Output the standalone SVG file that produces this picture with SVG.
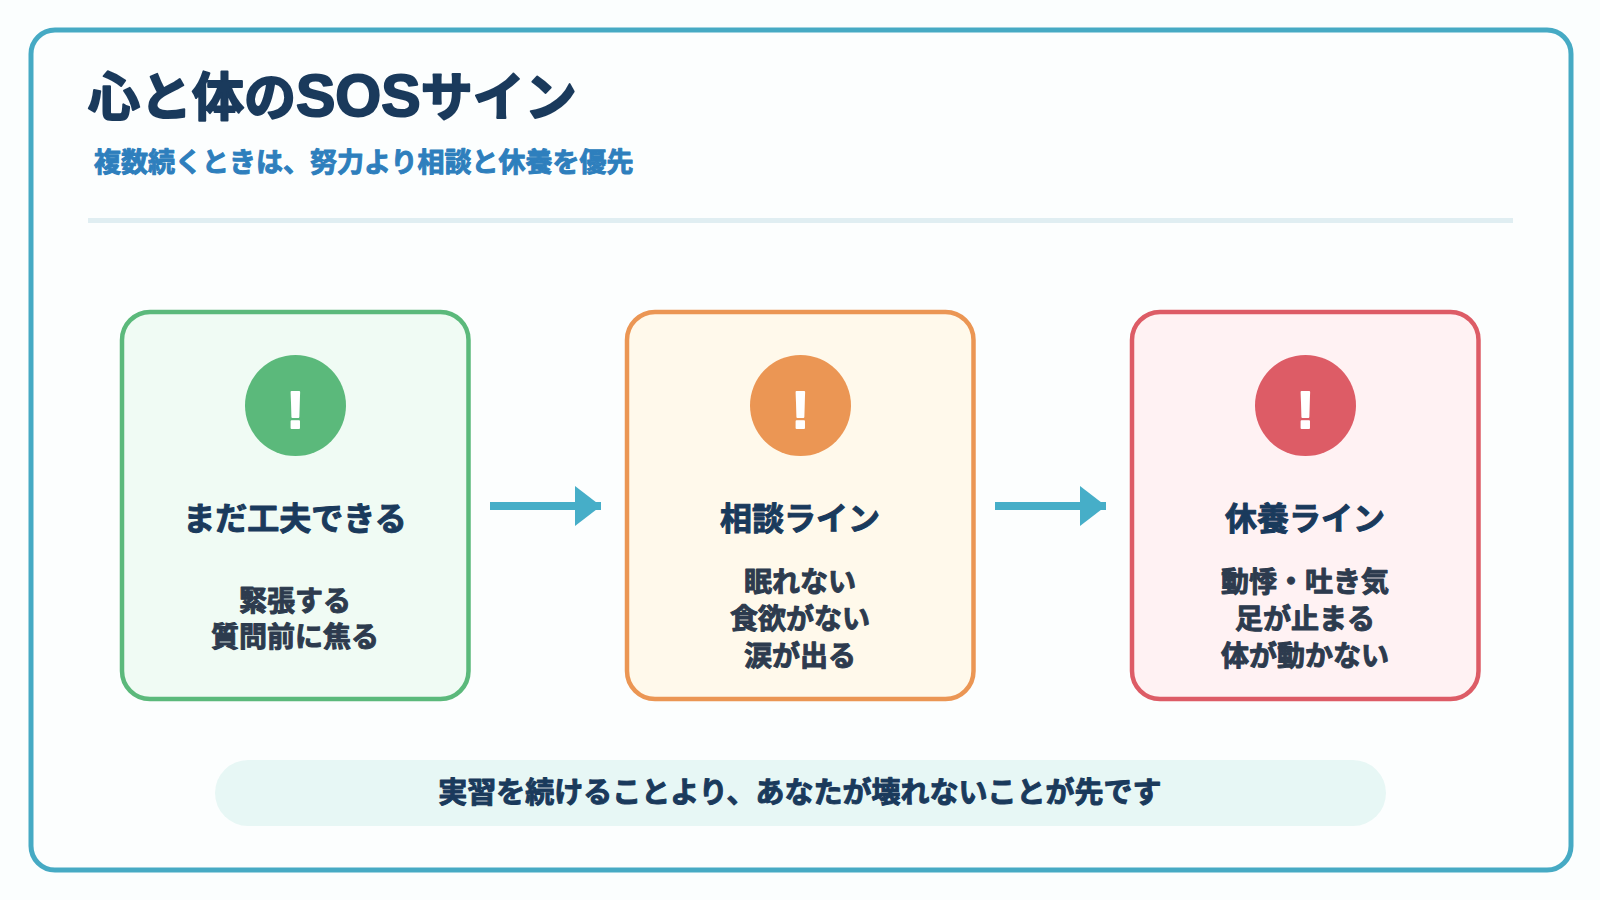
<svg xmlns="http://www.w3.org/2000/svg" width="1600" height="900" viewBox="0 0 1600 900">
<style>
text{font-family:"Liberation Sans","Noto Sans CJK JP",sans-serif;font-weight:700;text-anchor:middle;stroke-linejoin:round}
.card{stroke-width:4.500}
.bang{font-size:52px;fill:#fff;stroke:#fff;stroke-width:2}
.h{font-size:32px;fill:#1a3a5c;stroke:#1a3a5c;stroke-width:1}
.b{font-size:28px;fill:#2d3b4e;stroke:#2d3b4e;stroke-width:1}
.c{fill:none;stroke:#46aec8;stroke-width:8}
</style>
<defs><marker id="arrow" markerUnits="userSpaceOnUse" markerWidth="26" markerHeight="40" refX="0" refY="20" orient="auto"><polygon points="0,0 26,20 0,40" fill="#46aec8"/></marker></defs>
<rect width="1600" height="900" fill="#fbfefe"/>
<g id="frame"><rect x="31" y="30" width="1540" height="840" rx="24" fill="#fcfefe" stroke="#46aac4" stroke-width="5"/></g>
<g id="header">
<text x="88" y="116" style="font-size:52px;text-anchor:start;fill:#1a3a5c;stroke:#1a3a5c;stroke-width:2">心と体の<tspan style="font-size:59px">SOS</tspan>サイン</text>
<text x="94" y="172" style="font-size:27px;text-anchor:start;fill:#2e7fbd;stroke:#2e7fbd;stroke-width:1">複数続くときは、努力より相談と休養を優先</text>
<rect x="88" y="218" width="1425" height="5" fill="#e0eef2"/>
</g>
<g id="connectors">
<line class="c" x1="490" y1="506" x2="575" y2="506" marker-end="url(#arrow)"/>
<line class="c" x1="995" y1="506" x2="1080" y2="506" marker-end="url(#arrow)"/>
<rect x="575" y="502" width="26" height="8" fill="#46aec8"/>
<rect x="1080" y="502" width="26" height="8" fill="#46aec8"/>
</g>
<g id="node1">
<rect class="card" x="122" y="312" width="346.500" height="387" rx="28" fill="#f0fbf4" stroke="#5bb97b"/>
<circle cx="295.500" cy="405.500" r="50.500" fill="#5bb97b"/>
<text class="bang" x="295.500" y="428">!</text>
<text class="h" x="295" y="530">まだ工夫できる</text>
<text class="b" x="295" y="610.500">緊張する</text>
<text class="b" x="295" y="647">質問前に焦る</text>
</g>
<g id="node2">
<rect class="card" x="627" y="312" width="346.500" height="387" rx="28" fill="#fff9eb" stroke="#eb9654"/>
<circle cx="800.500" cy="405.500" r="50.500" fill="#eb9654"/>
<text class="bang" x="800.500" y="428">!</text>
<text class="h" x="800" y="530">相談ライン</text>
<text class="b" x="800" y="591.500">眠れない</text>
<text class="b" x="800" y="628.500">食欲がない</text>
<text class="b" x="800" y="665.500">涙が出る</text>
</g>
<g id="node3">
<rect class="card" x="1132" y="312" width="346.500" height="387" rx="28" fill="#fff2f3" stroke="#dd5c66"/>
<circle cx="1305.500" cy="405.500" r="50.500" fill="#dd5c66"/>
<text class="bang" x="1305.500" y="428">!</text>
<text class="h" x="1305" y="530">休養ライン</text>
<text class="b" x="1305" y="592">動悸・吐き気</text>
<text class="b" x="1305" y="629">足が止まる</text>
<text class="b" x="1305" y="666">体が動かない</text>
</g>
<g id="note">
<rect x="215" y="760" width="1171" height="66" rx="33" fill="#e7f7f5"/>
<text x="800" y="802.500" style="font-size:29px;fill:#1a3a5c;stroke:#1a3a5c;stroke-width:1">実習を続けることより、あなたが壊れないことが先です</text>
</g>
</svg>
